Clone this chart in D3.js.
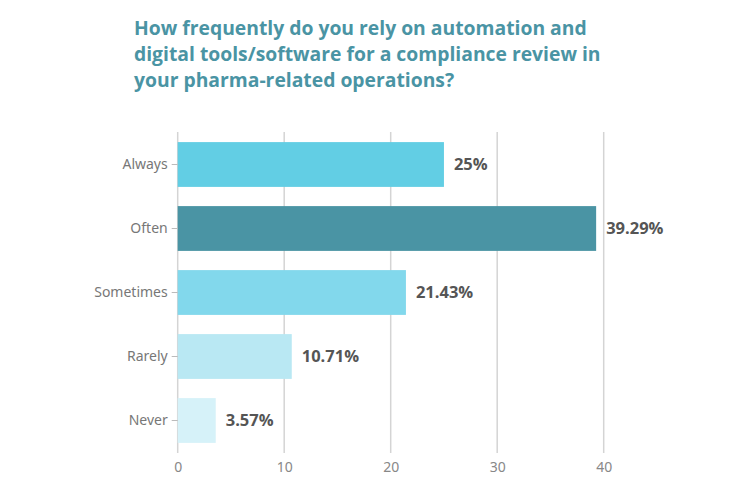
<!DOCTYPE html>
<html>
<head>
<meta charset="utf-8">
<script src="https://cdn.jsdelivr.net/npm/d3@7"></script>
<style>
  html, body { margin: 0; padding: 0; background: #fff; }
  svg { display: block; }
</style>
</head>
<body>
<svg id="chart" width="751" height="501"></svg>
<script>
const titleLines = [
  "How frequently do you rely on automation and",
  "digital tools/software for a compliance review in",
  "your pharma-related operations?"
];
const categories = ["Always", "Often", "Sometimes", "Rarely", "Never"];
const values = [25, 39.29, 21.43, 10.71, 3.57];
const valueLabels = ["25%", "39.29%", "21.43%", "10.71%", "3.57%"];
const barColors = ["#62cee4", "#4a94a4", "#82d8ec", "#b9e8f3", "#d6f2f9"];
const xTicks = [0, 10, 20, 30, 40];

const svg = d3.select("#chart");
const x = d3.scaleLinear().domain([0, 40]).range([177.7, 603.7]);
const y = d3.scaleBand().domain(categories).range([132.5, 452.5]).paddingInner(0.3).paddingOuter(0.15);

// title
const title = svg.append("text")
  .attr("fill", "#4a94a4")
  .attr("font-family", "'Open Sans', sans-serif")
  .attr("font-weight", "bold")
  .attr("font-size", 19);
titleLines.forEach((t, i) => {
  title.append("tspan").attr("x", 134).attr("y", 35 + i * 26).text(t);
});
// fit first line to the reference width
const firstLen = title.select("tspan").node().getComputedTextLength();
title.attr("font-size", 19 * 453 / firstLen);

// grid
svg.append("g").selectAll("line").data(xTicks).join("line")
  .attr("x1", d => x(d)).attr("x2", d => x(d))
  .attr("y1", 132).attr("y2", 453)
  .attr("stroke", "#d4d4d4").attr("stroke-width", 1.5);

// bars
svg.append("g").selectAll("rect").data(categories).join("rect")
  .attr("x", x(0))
  .attr("y", d => y(d))
  .attr("width", (d, i) => x(values[i]) - x(0))
  .attr("height", y.bandwidth())
  .attr("fill", (d, i) => barColors[i]);

// value labels
svg.append("g").selectAll("text").data(categories).join("text")
  .attr("x", (d, i) => x(values[i]) + 10)
  .attr("y", d => y(d) + y.bandwidth() / 2)
  .attr("dy", "0.35em")
  .attr("fill", "#555")
  .attr("font-family", "'Open Sans', sans-serif")
  .attr("font-weight", "bold")
  .attr("font-size", 16.5)
  .text((d, i) => valueLabels[i]);

// y axis
const yAxis = svg.append("g")
  .attr("transform", `translate(${x(0)},0)`)
  .call(d3.axisLeft(y).tickSize(6).tickPadding(4));
yAxis.select(".domain").remove();
yAxis.selectAll(".tick line").attr("stroke", "#bbb");
yAxis.selectAll(".tick text")
  .attr("fill", "#777")
  .attr("font-family", "'Noto Sans', sans-serif")
  .attr("font-size", 14);

// x axis
const xAxis = svg.append("g")
  .attr("transform", `translate(0,453)`)
  .call(d3.axisBottom(x).tickValues(xTicks).tickSize(0).tickPadding(9));
xAxis.select(".domain").remove();
xAxis.selectAll(".tick text")
  .attr("fill", "#888")
  .attr("font-family", "'Noto Sans', sans-serif")
  .attr("font-size", 14);
</script>
</body>
</html>
